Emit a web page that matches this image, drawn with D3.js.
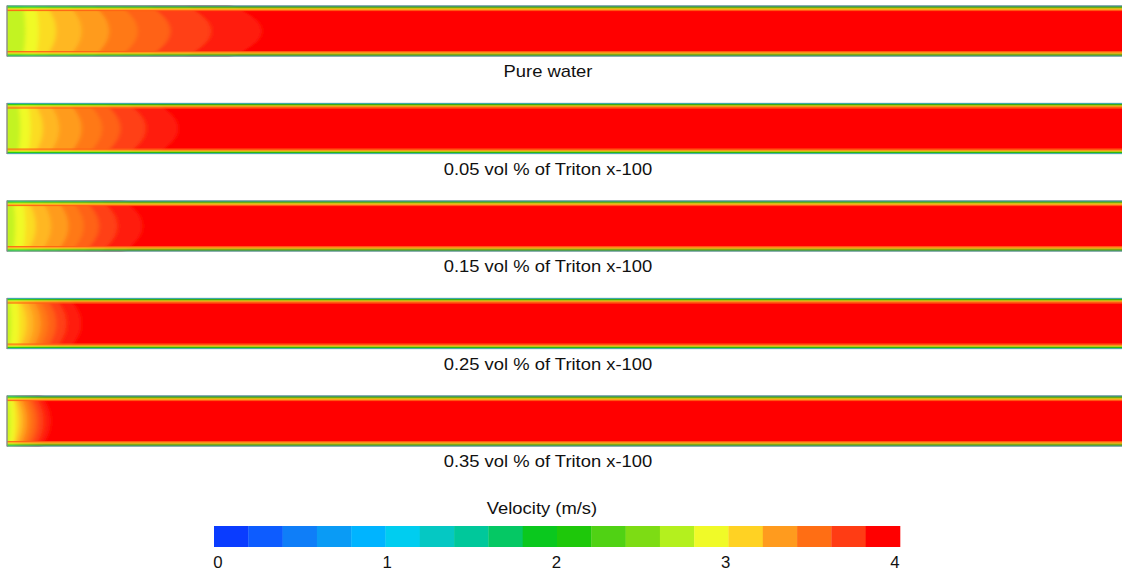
<!DOCTYPE html>
<html><head><meta charset="utf-8">
<script src="https://cdn.jsdelivr.net/npm/d3@7"></script>
<style>html,body{margin:0;padding:0;background:#fff;overflow:hidden}</style>
</head><body><svg id="c" width="1122" height="575"></svg>
<script>
// ---------- data ----------
const caseLabels = ["Pure water", "0.05 vol % of Triton x-100", "0.15 vol % of Triton x-100",
                    "0.25 vol % of Triton x-100", "0.35 vol % of Triton x-100"];
// velocity bands (m/s) of the inlet development region, low -> high
const bandVelocity = [2.75, 2.9, 3.05, 3.2, 3.3, 3.45, 3.55, 3.68, 3.8];
// centerline distance (x/D) where each band ends, per case
const endsPure = [0.36, 0.62, 0.96, 1.46, 2.0, 2.56, 3.2, 4.0, 5.0];
const ends005  = [0.26, 0.46, 0.70, 1.02, 1.46, 1.86, 2.22, 2.72, 3.36];
const ends015  = [0.16, 0.36, 0.56, 0.86, 1.20, 1.50, 1.80, 2.16, 2.66];
const ends025  = [0.08, 0.24, 0.38, 0.52, 0.66, 0.80, 0.96, 1.16, 1.46];
const ends035  = [0.06, 0.16, 0.24, 0.32, 0.40, 0.50, 0.60, 0.72, 0.86];
const caseEnds = [endsPure, ends005, ends015, ends025, ends035];
const coreVelocity = 3.95;
// near-wall velocity layers (wall -> core), m/s
const wallLayers = [1.4, 2.1, 2.7, 3.2, 3.55];
// colour bar
const barColors = ["#0a3cff", "#0d5cff", "#0f7ef8", "#0a9bf5", "#00b4ff", "#00cdf0", "#05c8c3",
                   "#00c89b", "#05c864", "#0ac81e", "#1ec80a", "#50d214", "#7ddc14", "#b4f01e",
                   "#f0fa28", "#ffd223", "#ff9b1e", "#ff6e14", "#ff3c14", "#ff0000"];
const barTicks = [0, 1, 2, 3, 4];
const barTitle = "Velocity (m/s)";

// ---------- scales ----------
const svg = d3.select("#c");
const defs = svg.append("defs");
defs.append("filter").attr("id", "soft").attr("x", "-5%").attr("y", "-20%")
  .attr("width", "110%").attr("height", "140%")
  .append("feGaussianBlur").attr("stdDeviation", "2.2 0.6");

const vmin = 0, vmax = 4;
const segW = (vmax - vmin) / barColors.length;
const color = d3.scaleLinear()
  .domain(barColors.map((c, i) => vmin + segW * (i + 0.5)))
  .range(barColors).clamp(true);

const pipeH = 51;
const xD = d3.scaleLinear().domain([0, 22]).range([7, 7 + 22 * pipeH]);       // x/D
const yCase = d3.scalePoint().domain(caseLabels).range([5.5, 395.5]);          // pipe top
const rScale = d3.scaleLinear().domain([-1, 1]).range([0, pipeH]);             // r/R inside pipe

const wallT = 1.1; // px per wall layer

caseLabels.forEach((lab, ci) => {
  const g = svg.append("g").attr("transform", `translate(0,${yCase(lab)})`);
  const x0 = xD(0), x1 = xD(22);
  const cid = "clip" + ci;
  defs.append("clipPath").attr("id", cid).append("rect")
    .attr("x", x0).attr("y", yCase(lab)).attr("width", x1 - x0).attr("height", pipeH);
  const inner = g.append("g").attr("clip-path", `url(#${cid})`)
    .attr("transform", `translate(0,${-yCase(lab)})`)
    .append("g").attr("transform", `translate(0,${yCase(lab)})`);
  // core
  inner.append("rect").attr("x", x0).attr("y", 0).attr("width", x1 - x0).attr("height", pipeH)
    .attr("fill", color(coreVelocity));
  // development bands (largest first), softened
  const bands = inner.append("g").attr("filter", "url(#soft)");
  const ends = caseEnds[ci];
  const etas = d3.range(-1.2, 1.2001, 0.05);
  for (let i = ends.length - 1; i >= 0; i--) {
    const e = ends[i];
    const bulge = (0.1 * e + 0.1) * (i < 2 ? 0.35 : 1);
    const pts = [[xD(-0.4), rScale(-1.2)]];
    etas.forEach(eta => {
      const t = Math.min(1, Math.abs(eta));
      pts.push([xD(Math.max(0, e - bulge * t * t)), rScale(eta)]);
    });
    pts.push([xD(-0.4), rScale(1.2)]);
    bands.append("path").attr("d", d3.line()(pts) + "Z").attr("fill", color(bandVelocity[i]));
  }
  // wall layers
  const walls = inner.append("g").attr("filter", null);
  wallLayers.forEach((v, k) => {
    walls.append("rect").attr("x", x0).attr("y", k * wallT).attr("width", x1 - x0)
      .attr("height", wallT + 0.1).attr("fill", color(v)).attr("opacity", k === 0 ? 1 : 0.9);
    walls.append("rect").attr("x", x0).attr("y", pipeH - (k + 1) * wallT).attr("width", x1 - x0)
      .attr("height", wallT + 0.1).attr("fill", color(v)).attr("opacity", k === 0 ? 1 : 0.9);
  });
  // outline
  g.append("line").attr("x1", x0).attr("x2", x1).attr("y1", 0.3).attr("y2", 0.3)
    .attr("stroke", "#5f9aa8").attr("stroke-width", 0.8);
  g.append("line").attr("x1", x0).attr("x2", x1).attr("y1", pipeH - 0.3).attr("y2", pipeH - 0.3)
    .attr("stroke", "#6fa3a8").attr("stroke-width", 0.8);
  g.append("line").attr("x1", x0).attr("x2", x0).attr("y1", 0).attr("y2", pipeH)
    .attr("stroke", "#8a8a8a").attr("stroke-width", 1.4);
  // label
  g.append("text").attr("transform", `translate(548,${pipeH + 20.5}) scale(1.15,1)`)
    .attr("text-anchor", "middle").attr("font-family", "Liberation Sans, Arial, sans-serif")
    .attr("font-size", 16).attr("fill", "#111").text(lab);
});

// ---------- colour bar ----------
const xBar = d3.scaleLinear().domain([vmin, vmax]).range([214, 900]);
const cb = svg.append("g");
cb.selectAll("rect").data(barColors).join("rect")
  .attr("x", (d, i) => xBar(vmin + i * segW))
  .attr("width", (d, i) => xBar(vmin + (i + 1) * segW) - xBar(vmin + i * segW) + 0.3)
  .attr("y", 526).attr("height", 21).attr("fill", d => d);
const xTick = d3.scaleLinear().domain([vmin, vmax]).range([218, 895]);
cb.selectAll("text.tk").data(barTicks).join("text").attr("class", "tk")
  .attr("transform", d => `translate(${xTick(d)},568) scale(1.05,1)`)
  .attr("text-anchor", "middle").attr("font-family", "Liberation Sans, Arial, sans-serif")
  .attr("font-size", 16).attr("fill", "#111").text(d => d);
cb.append("text").attr("transform", "translate(542,514) scale(1.15,1)")
  .attr("text-anchor", "middle").attr("font-family", "Liberation Sans, Arial, sans-serif")
  .attr("font-size", 16).attr("fill", "#111").text(barTitle);
</script></body></html>
